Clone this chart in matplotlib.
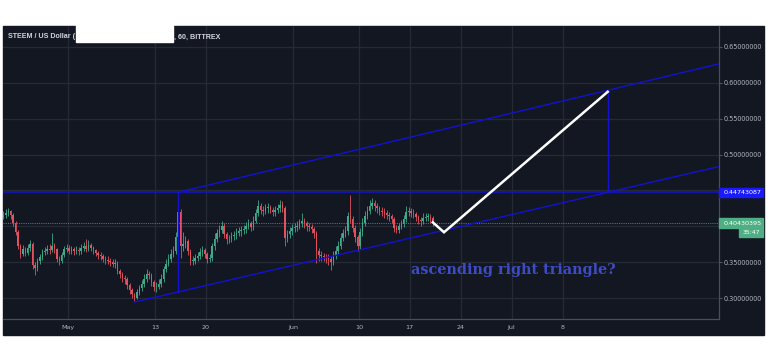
import pandas as pd
import matplotlib
matplotlib.use("Agg")
import matplotlib.pyplot as plt
import matplotlib.dates as mdates
import matplotlib.transforms as mtransforms
from matplotlib.patches import Rectangle

# STEEM/USD, 8h candles
start = "2019-04-22 04:00"
first_open = 0.413
closes = [
    0.416, 0.419, 0.421, 0.416, 0.405, 0.392, 0.373, 0.362, 0.368, 0.363,
    0.370, 0.376, 0.346, 0.342, 0.352, 0.357, 0.364, 0.366, 0.369, 0.367,
    0.373, 0.368, 0.354, 0.352, 0.360, 0.368, 0.370, 0.366, 0.368, 0.365,
    0.367, 0.365, 0.370, 0.372, 0.369, 0.374, 0.370, 0.367, 0.363, 0.360,
    0.358, 0.355, 0.353, 0.352, 0.350, 0.348, 0.349, 0.338, 0.333, 0.328,
    0.326, 0.318, 0.311, 0.305, 0.300, 0.308, 0.314, 0.320, 0.327, 0.334,
    0.332, 0.322, 0.315, 0.316, 0.320, 0.326, 0.340, 0.348, 0.355, 0.362,
    0.366, 0.385, 0.420, 0.372, 0.376, 0.380, 0.366, 0.352, 0.352, 0.356,
    0.358, 0.364, 0.367, 0.361, 0.354, 0.356, 0.372, 0.383, 0.390, 0.395,
    0.400, 0.389, 0.382, 0.382, 0.386, 0.388, 0.391, 0.393, 0.395, 0.396,
    0.400, 0.404, 0.399, 0.408, 0.418, 0.428, 0.423, 0.421, 0.425, 0.427,
    0.423, 0.420, 0.423, 0.425, 0.430, 0.426, 0.384, 0.389, 0.393, 0.397,
    0.399, 0.401, 0.404, 0.408, 0.404, 0.400, 0.399, 0.396, 0.390, 0.365,
    0.360, 0.358, 0.357, 0.356, 0.355, 0.350, 0.360, 0.366, 0.373, 0.384,
    0.390, 0.393, 0.414, 0.410, 0.398, 0.385, 0.372, 0.392, 0.405, 0.415,
    0.422, 0.429, 0.432, 0.428, 0.425, 0.422, 0.420, 0.418, 0.416, 0.414,
    0.410, 0.398, 0.395, 0.400, 0.403, 0.410, 0.420, 0.421, 0.419, 0.417,
    0.413, 0.409, 0.407, 0.412, 0.413, 0.413, 0.411, 0.404,
]
highs = [
    0.422, 0.424, 0.426, 0.423, 0.418, 0.408, 0.395, 0.376, 0.374, 0.371,
    0.375, 0.381, 0.378, 0.350, 0.356, 0.362, 0.368, 0.371, 0.374, 0.376,
    0.390, 0.377, 0.370, 0.358, 0.364, 0.372, 0.376, 0.374, 0.373, 0.371,
    0.372, 0.371, 0.376, 0.378, 0.383, 0.381, 0.377, 0.373, 0.369, 0.366,
    0.364, 0.362, 0.359, 0.358, 0.356, 0.354, 0.354, 0.351, 0.341, 0.337,
    0.332, 0.329, 0.321, 0.314, 0.307, 0.312, 0.318, 0.325, 0.333, 0.340,
    0.338, 0.335, 0.325, 0.322, 0.326, 0.333, 0.345, 0.354, 0.362, 0.369,
    0.373, 0.392, 0.447, 0.424, 0.392, 0.386, 0.383, 0.369, 0.358, 0.361,
    0.364, 0.370, 0.373, 0.370, 0.364, 0.362, 0.377, 0.390, 0.396, 0.402,
    0.408, 0.404, 0.392, 0.388, 0.392, 0.394, 0.397, 0.399, 0.401, 0.402,
    0.406, 0.410, 0.407, 0.414, 0.424, 0.437, 0.432, 0.429, 0.431, 0.433,
    0.430, 0.427, 0.428, 0.431, 0.437, 0.435, 0.428, 0.395, 0.399, 0.403,
    0.405, 0.407, 0.410, 0.418, 0.412, 0.408, 0.405, 0.403, 0.399, 0.393,
    0.370, 0.365, 0.363, 0.362, 0.361, 0.358, 0.365, 0.372, 0.380, 0.390,
    0.396, 0.400, 0.420, 0.443, 0.414, 0.402, 0.388, 0.397, 0.411, 0.421,
    0.428, 0.436, 0.440, 0.436, 0.432, 0.429, 0.427, 0.425, 0.423, 0.420,
    0.417, 0.413, 0.402, 0.405, 0.409, 0.416, 0.428, 0.427, 0.426, 0.424,
    0.420, 0.416, 0.413, 0.418, 0.419, 0.419, 0.417, 0.414,
]
lows = [
    0.410, 0.412, 0.414, 0.410, 0.400, 0.388, 0.368, 0.356, 0.358, 0.358,
    0.360, 0.366, 0.340, 0.332, 0.338, 0.348, 0.353, 0.360, 0.362, 0.362,
    0.364, 0.363, 0.350, 0.346, 0.349, 0.357, 0.364, 0.361, 0.362, 0.360,
    0.361, 0.360, 0.362, 0.366, 0.364, 0.365, 0.366, 0.362, 0.358, 0.355,
    0.353, 0.350, 0.348, 0.347, 0.345, 0.343, 0.342, 0.333, 0.328, 0.323,
    0.320, 0.313, 0.306, 0.300, 0.296, 0.298, 0.304, 0.310, 0.316, 0.322,
    0.326, 0.317, 0.310, 0.309, 0.312, 0.316, 0.322, 0.336, 0.344, 0.350,
    0.357, 0.362, 0.382, 0.356, 0.366, 0.370, 0.360, 0.346, 0.346, 0.348,
    0.351, 0.354, 0.359, 0.356, 0.349, 0.350, 0.352, 0.367, 0.378, 0.385,
    0.390, 0.384, 0.376, 0.377, 0.378, 0.381, 0.383, 0.386, 0.387, 0.389,
    0.391, 0.396, 0.394, 0.395, 0.404, 0.414, 0.417, 0.415, 0.417, 0.419,
    0.418, 0.414, 0.415, 0.418, 0.420, 0.420, 0.372, 0.378, 0.384, 0.388,
    0.392, 0.394, 0.396, 0.399, 0.398, 0.394, 0.393, 0.390, 0.384, 0.349,
    0.352, 0.352, 0.351, 0.349, 0.346, 0.339, 0.346, 0.355, 0.361, 0.368,
    0.379, 0.385, 0.388, 0.404, 0.392, 0.378, 0.366, 0.368, 0.387, 0.400,
    0.410, 0.417, 0.424, 0.422, 0.419, 0.416, 0.414, 0.412, 0.410, 0.408,
    0.404, 0.392, 0.390, 0.391, 0.396, 0.399, 0.406, 0.414, 0.413, 0.411,
    0.407, 0.403, 0.401, 0.403, 0.407, 0.407, 0.405, 0.401,
]

# drawings on the chart
resistance = 0.44743087
last_price = 0.40430395
countdown = "35:47"
upper_line = (["2019-05-16 04:00", "2019-07-29 12:00"], [0.4474, 0.6264])
lower_line = (["2019-05-10 04:00", "2019-07-29 12:00"], [0.2944, 0.4833])
left_leg = (["2019-05-16 04:00", "2019-05-16 04:00"], [0.4474, 0.3085])
right_leg = (["2019-07-14 05:00", "2019-07-14 05:00"], [0.5875, 0.4474])
projection = (["2019-06-20 04:00", "2019-06-21 17:00", "2019-07-14 05:00"], [0.4056, 0.3917, 0.5875])
note = "ascending right triangle?"
note_at = ("2019-06-17 05:00", 0.339)

tick_dates = ["2019-05-01", "2019-05-13", "2019-05-20", "2019-06-01", "2019-06-10",
              "2019-06-17", "2019-06-24", "2019-07-01", "2019-07-08"]
tick_labels = ["May", "13", "20", "Jun", "10", "17", "24", "Jul", "8"]
price_ticks = [0.30, 0.35, 0.40, 0.45, 0.50, 0.55, 0.60, 0.65]
# 0.40 and 0.45 sit under the price tags, so they show no label
price_labels = ["0.30000000", "0.35000000", "", "", "0.50000000", "0.55000000",
                "0.60000000", "0.65000000"]

bg = "#131722"
grid = "#262a35"
txt = "#b2b5be"
up = "#3fa98a"
down = "#e0525e"
blue = "#1212d0"

W, H = 768, 357
fig = plt.figure(figsize=(W / 100, H / 100), dpi=100, facecolor="white")

# dark panel behind everything (pixel coords, top-left origin)
fig.patches.append(Rectangle((3 / W, 1 - 335 / H), 761 / W, 309 / H,
                             transform=fig.transFigure, color=bg, zorder=-5))

ax = fig.add_axes([3 / W, 1 - 319 / H, 716 / W, 293 / H])
ax.set_facecolor(bg)

times = pd.date_range(start, periods=len(closes), freq="8h")
x = mdates.date2num(times)
opens = [first_open] + closes[:-1]
colors = [up if c >= o else down for o, c in zip(opens, closes)]
bottoms = [min(o, c) for o, c in zip(opens, closes)]
heights = [max(abs(c - o), 0.0008) for o, c in zip(opens, closes)]
ax.vlines(x, lows, highs, colors=colors, linewidth=0.6, zorder=3)
ax.bar(x, heights, bottom=bottoms, width=0.2, color=colors, linewidth=0, zorder=3)

def d(lst):
    return mdates.date2num(pd.to_datetime(lst))

ax.axhline(resistance, color=blue, lw=1.1, zorder=4)
for seg in (upper_line, lower_line, left_leg, right_leg):
    ax.plot(d(seg[0]), seg[1], color=blue, lw=1.0, zorder=4)
ax.plot(d(projection[0]), projection[1], color="white", lw=1.8, zorder=5,
        solid_joinstyle="miter")
ax.axhline(last_price, color="#26a69a", lw=0.8, ls=(0, (1, 1)), alpha=0.8, zorder=2)

ax.text(d([note_at[0]])[0], note_at[1], note, color="#3d4cc4", fontsize=10.4,
        family="DejaVu Serif", weight="bold", va="center", ha="left", zorder=6)

ax.set_xlim(d(["2019-04-22 02:24"])[0], d(["2019-07-29 12:00"])[0])
ax.set_ylim(0.2708, 0.6792)

ax.set_xticks(d(tick_dates))
ax.set_xticklabels(tick_labels)
ax.set_yticks(price_ticks)
ax.set_yticklabels(price_labels)
ax.yaxis.tick_right()
ax.grid(True, color=grid, lw=0.9)
ax.set_axisbelow(True)
ax.tick_params(axis="x", colors=txt, labelsize=4.6, length=0, pad=4)
ax.tick_params(axis="y", colors=txt, labelsize=4.7, length=2, pad=1.5, color="#50535e")
for s in ("top", "left"):
    ax.spines[s].set_visible(False)
for s in ("right", "bottom"):
    ax.spines[s].set_color("#4a4e59")
    ax.spines[s].set_linewidth(0.9)

# price tags on the right scale
bt = mtransforms.blended_transform_factory(ax.transAxes, ax.transData)
tag_w = 44 / 716
for price, col in ((resistance, "#1a1aff"), (last_price, "#4fae84")):
    ax.add_patch(Rectangle((1.0, price - 0.0066), tag_w, 0.0132, transform=bt,
                           color=col, clip_on=False, zorder=7))
    ax.text(1.0 + 5 / 716, price, "%.8f" % price, transform=bt, color="white",
            fontsize=4.6, va="center", ha="left", zorder=8, clip_on=False)
ax.add_patch(Rectangle((1.0 + 20 / 716, last_price - 0.0196), 24 / 716, 0.0124,
                       transform=bt, color="#4fae84", clip_on=False, zorder=7))
ax.text(1.0 + 32 / 716, last_price - 0.0136, countdown, transform=bt,
        color="white", fontsize=4.4, va="center", ha="center", zorder=8, clip_on=False)

# header text with the covered part
fig.text(8 / W, 1 - 37 / H, "STEEM / US Dollar (", color="#d1d4dc", fontsize=5.1,
         family="Liberation Sans", weight="bold", va="center")
fig.text(174 / W, 1 - 37 / H, ", 60, BITTREX", color="#d1d4dc", fontsize=5.1,
         family="Liberation Sans", weight="bold", va="center")
fig.patches.append(Rectangle((76 / W, 1 - 42 / H), 97 / W, 18 / H,
                             transform=fig.transFigure, color="white", zorder=5))

fig.savefig("out.png", dpi=100, facecolor="white")
